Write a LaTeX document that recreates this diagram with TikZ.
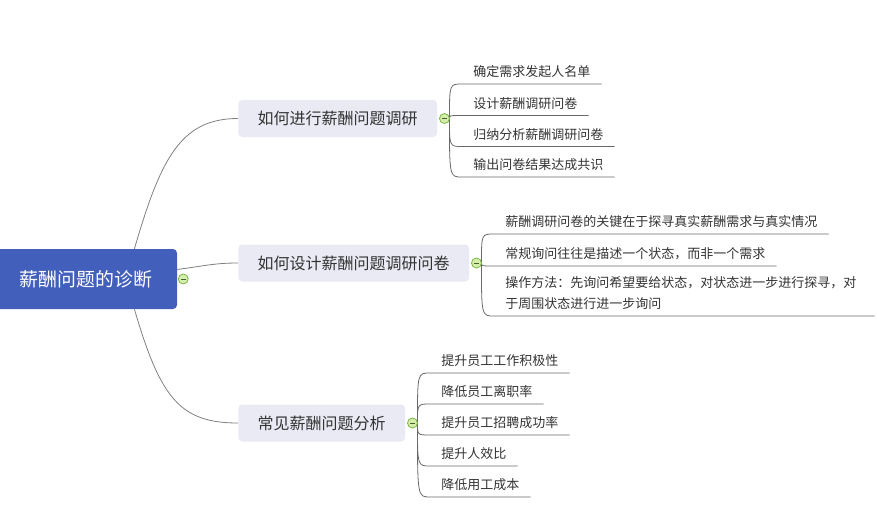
\documentclass[tikz,border=0pt]{standalone}
\usepackage{fontspec}
\setmainfont{Noto Sans CJK SC}
\usetikzlibrary{calc}
\definecolor{rootblue}{RGB}{66, 95, 187}
\definecolor{topicgray}{RGB}{233, 234, 243}
\definecolor{linkgray}{RGB}{128, 128, 128}
\definecolor{leafgray}{RGB}{105, 105, 105}
\definecolor{foldgreen}{RGB}{122, 182, 72}
\definecolor{foldlight}{RGB}{214, 238, 172}
\definecolor{inkgray}{RGB}{51, 51, 51}

\tikzset{
  rootbox/.style  = {fill=rootblue, text=white, rounded corners=3pt, minimum width=136.5pt,
                     minimum height=45pt, font=\fontsize{14.2}{16}\selectfont},
  topicbox/.style = {fill=topicgray, text=inkgray, rounded corners=3pt, anchor=west,
                     inner xsep=14.6pt, minimum height=27.75pt, font=\fontsize{12}{14}\selectfont},
  leafitem/.style = {anchor=south west, inner xsep=8.25pt, inner ysep=0pt, text depth=5.3pt,
                     text=inkgray, font=\fontsize{9.75}{15.75}\selectfont},
  fold/.style     = {circle, draw=foldgreen, fill=foldlight, inner sep=0pt, minimum size=7.5pt,
                     line width=0.6pt,
                     path picture={\draw[foldgreen!55!black, line width=0.6pt]
                       ([xshift=-2pt]path picture bounding box.center) -- ([xshift=2pt]path picture bounding box.center);}},
  link/.style     = {draw=linkgray, line width=0.6pt},
  underline/.style= {draw=leafgray, line width=0.6pt},
}

\begin{document}
\begin{tikzpicture}[x=0.75pt, y=-0.75pt]
            \useasboundingbox (0,0) rectangle (877,507);
            % root and main topics
            \node[rootbox]  (root)   at ( 86.0, 279.0) {薪酬问题的诊断};
            \node[topicbox] (survey) at (238.0, 118.5) {如何进行薪酬问题调研};
            \node[topicbox] (design) at (238.0, 263.0) {如何设计薪酬问题调研问卷};
            \node[topicbox] (common) at (238.0, 423.0) {常见薪酬问题分析};
            \draw[link] (root.32)  .. controls +(26,-89) and +(-58,0) .. (survey.west);
            \draw[link] (root.6)   .. controls +(25,-3)  and +(-25,0) .. (design.west);
            \draw[link] (root.-32) .. controls +(26,89)  and +(-58,0) .. (common.west);
            % leaves of the first topic
            \node[leafitem] (s1) at (462.0,  84.0) {确定需求发起人名单};
            \node[leafitem] (s2) at (462.0, 115.5) {设计薪酬调研问卷};
            \node[leafitem] (s3) at (462.0, 146.5) {归纳分析薪酬调研问卷};
            \node[leafitem] (s4) at (462.0, 177.0) {输出问卷结果达成共识};
            % leaves of the second topic
            \node[leafitem] (d1) at (494.0, 234.0) {薪酬调研问卷的关键在于探寻真实薪酬需求与真实情况};
            \node[leafitem] (d2) at (494.0, 266.0) {常规询问往往是描述一个状态，而非一个需求};
            \node[leafitem, text width=268.5pt, align=left, text depth=21.05pt] (d3) at (494.0, 316.0)
                 {操作方法：先询问希望要给状态，对状态进一步进行探寻，对\\于周围状态进行进一步询问};
            % leaves of the third topic
            \node[leafitem] (c1) at (430.0, 373.0) {提升员工工作积极性};
            \node[leafitem] (c2) at (430.0, 404.0) {降低员工离职率};
            \node[leafitem] (c3) at (430.0, 435.0) {提升员工招聘成功率};
            \node[leafitem] (c4) at (430.0, 466.0) {提升人效比};
            \node[leafitem] (c5) at (430.0, 497.0) {降低用工成本};
            % underlines
            \draw[underline] ([xshift=9pt]survey.east) .. controls ([xshift=9pt]survey.east |- s1.south west) .. (s1.south west) -- (s1.south east);
            \draw[underline] ([xshift=9pt]survey.east) .. controls ([xshift=9pt]survey.east |- s2.south west) .. (s2.south west) -- (s2.south east);
            \draw[underline] ([xshift=9pt]survey.east) .. controls ([xshift=9pt]survey.east |- s3.south west) .. (s3.south west) -- (s3.south east);
            \draw[underline] ([xshift=9pt]survey.east) .. controls ([xshift=9pt]survey.east |- s4.south west) .. (s4.south west) -- (s4.south east);
            \draw[underline] ([xshift=9pt]design.east) .. controls ([xshift=9pt]design.east |- d1.south west) .. (d1.south west) -- (d1.south east);
            \draw[underline] ([xshift=9pt]design.east) .. controls ([xshift=9pt]design.east |- d2.south west) .. (d2.south west) -- (d2.south east);
            \draw[underline] ([xshift=9pt]design.east) .. controls ([xshift=9pt]design.east |- d3.south west) .. (d3.south west) -- (d3.south east);
            \draw[underline] ([xshift=9pt]common.east) .. controls ([xshift=9pt]common.east |- c1.south west) .. (c1.south west) -- (c1.south east);
            \draw[underline] ([xshift=9pt]common.east) .. controls ([xshift=9pt]common.east |- c2.south west) .. (c2.south west) -- (c2.south east);
            \draw[underline] ([xshift=9pt]common.east) .. controls ([xshift=9pt]common.east |- c3.south west) .. (c3.south west) -- (c3.south east);
            \draw[underline] ([xshift=9pt]common.east) .. controls ([xshift=9pt]common.east |- c4.south west) .. (c4.south west) -- (c4.south east);
            \draw[underline] ([xshift=9pt]common.east) .. controls ([xshift=9pt]common.east |- c5.south west) .. (c5.south west) -- (c5.south east);
            % fold markers
            \node[fold] (rootfold)   at ([xshift=4.5pt]root.east)   {};
            \node[fold] (surveyfold) at ([xshift=5.25pt]survey.east) {};
            \node[fold] (designfold) at ([xshift=5.25pt]design.east) {};
            \node[fold] (commonfold) at ([xshift=5.25pt]common.east) {};
        \end{tikzpicture}
\end{document}
